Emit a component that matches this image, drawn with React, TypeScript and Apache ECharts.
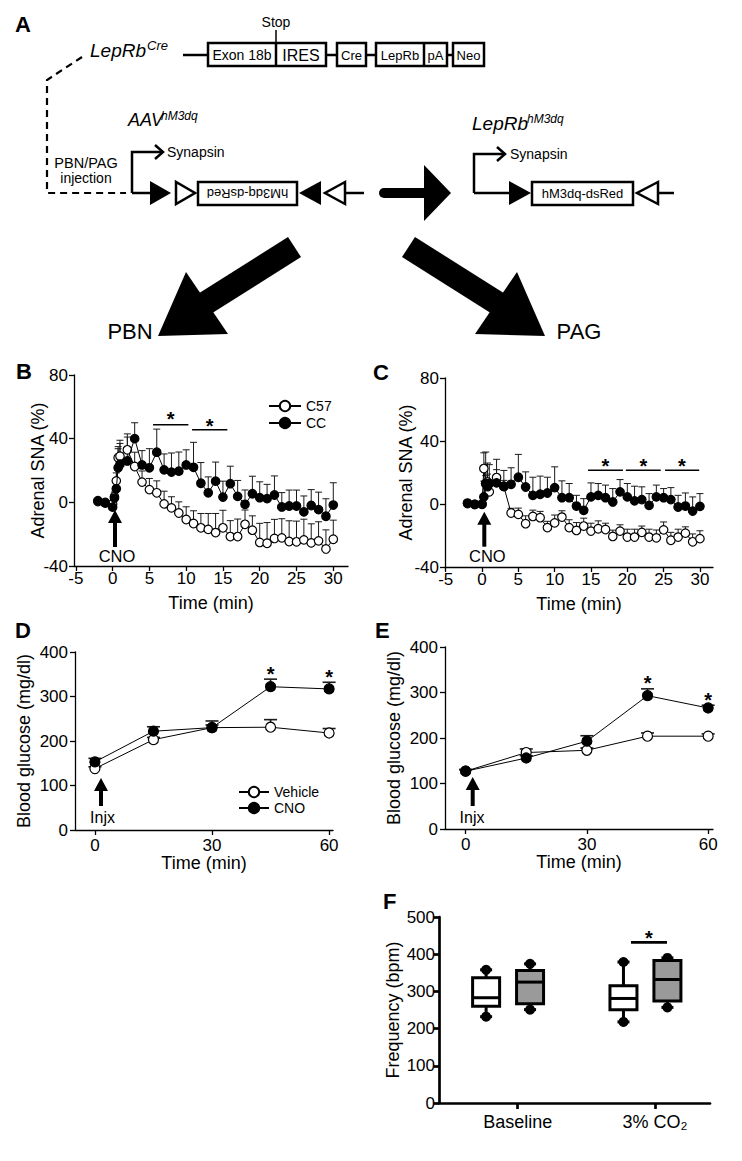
import React, { useEffect, useRef } from 'react';
import * as echarts from 'echarts';

const FONT = '"Liberation Sans", Arial, Helvetica, sans-serif';

// ---------- Panels B / C : adrenal SNA ----------
const snaTime = [-2, -1, 0, 0.25, 0.5, 0.75, 1, 2, 3, 4, 5, 6, 7, 8, 9, 10, 11, 12, 13, 14, 15, 16, 17, 18, 19, 20, 21, 22, 23, 24, 25, 26, 27, 28, 29, 30];
const snaXTicks = [-5, 0, 5, 10, 15, 20, 25, 30];

const bC57 = [0.5, 0, -1, 3.5, 13.5, 28, 29, 33, 22.5, 12.7, 8, 6, -1, -3.5, -6.7, -10.8, -13.3, -16, -17, -19, -16, -21.5, -21.5, -13.8, -17.5, -25.2, -25.7, -22.7, -22.3, -24.6, -24.8, -23.6, -25.5, -24.2, -29.3, -23.2];
const bC57Err = [0, 0, 0, 3, 5, 7, 8, 10, 9, 7, 7, 7.5, 8, 7, 7, 8, 8, 9, 10, 12, 11, 10, 11, 9, 9, 12, 13, 12, 12, 13, 13, 13, 12, 12, 12, 12];
const bCC = [1, -0.5, -3, 2.7, 8.5, 21.7, 24, 26, 40, 23.5, 21.7, 31.5, 20.4, 19, 19.6, 23.5, 22, 12, 6, 13.3, 3.3, 11.7, 3.75, -1.25, 5.4, 2.9, 2.3, 4.6, -2.9, -2.3, -2.3, -6, -2, -4.6, -8.75, -1.7];
const bCCErr = [0, 0, 0, 3, 6, 12, 15, 15, 10, 9, 12, 14.5, 10, 12, 12, 9.5, 15.7, 13, 10, 12, 10, 11, 10, 9, 11, 10, 9, 12, 9, 10, 10, 10, 10, 11, 11, 14];
const bSigBars = [[5.5, 10.3, 48.7], [10.8, 15.6, 45.6]];
const bStars = [[7.9, 55], [13.2, 51]];

const cC57 = [0.3, -0.3, 0, 22.5, 13, 14, 7.7, 16.8, 11, -5.7, -6.6, -12.5, -7.9, -8.7, -15, -12, -8.3, -15, -16.8, -14, -17.2, -15.7, -16.2, -20.6, -17.2, -21, -21, -18, -21, -21.5, -16.4, -23, -21, -18.5, -24, -22];
const cC57Err = [0, 0, 0, 10, 5, 5, 4, 5, 4, 3, 4, 5, 4, 4, 4, 5, 4, 5, 5, 5, 5, 5, 4, 4, 4, 5, 5, 4, 5, 5, 5, 5, 5, 4, 5, 5];
const cCC = [0.6, -0.2, -0.2, 4.5, 13, 11, 13, 13.4, 11.3, 12.5, 17, 10.8, 5.5, 6.2, 7, 10.4, 4, 4, -1.3, -4, 4.5, 5.5, 4, 1.3, 7.7, 4.5, 2, 2.8, -0.9, 4.5, 4, 2.8, -1.9, -1.3, -4.5, -1.5];
const cCCErr = [0, 0, 0, 10, 20, 15, 12, 15, 10, 10.5, 14.5, 9.6, 11.5, 11.5, 10, 13.2, 10.7, 9, 6.8, 7.4, 8.9, 7.5, 8, 8.5, 7.8, 8.5, 9.3, 8.1, 7.5, 7.5, 5.8, 7.6, 7.4, 8.3, 9, 8.1];
const cSigBars = [[14.6, 19.4, 21.4], [19.8, 24.6, 21.4], [25.2, 29.9, 21.4]];
const cStars = [[17, 27.3], [22.2, 27.3], [27.5, 27.3]];

// ---------- Panels D / E : blood glucose ----------
const glucoseTime = [0, 15, 30, 45, 60];
const glucoseXTicks = [0, 30, 60];
const dVehicle = [138, 203, 230, 231, 218];
const dVehicleErr = [4, 5, 6, 17, 10];
const dCNO = [153, 222, 230, 322, 317];
const dCNOErr = [8, 10, 15, 17, 15];
const dStars = [[45, 362], [60, 354]];
const eVehicle = [127, 168, 173, 204, 204];
const eVehicleErr = [3, 8, 5, 7, 5];
const eCNO = [127, 156, 193, 293, 266];
const eCNOErr = [4, 5, 12, 15, 6];
const eStars = [[45, 330], [60, 293]];

// ---------- Panel F : frequency box plots [min, Q1, median, Q3, max] ----------
const fCategories = ['Baseline', '3% CO₂'];
const fWhite = [[232, 260, 283, 337, 358], [218, 251, 281, 315, 379]];
const fGray = [[251, 267, 325, 356, 374], [257, 274, 332, 383, 390]];
const fSigBars = [[1.825, 2.087, 432]];
const fStars = [[1.956, 457]];

// ---------- helpers ----------
const pairs = (xs: number[], ys: number[]) => xs.map((x, i) => [x, ys[i]]);

const errRender = (capHalf: number, lw: number) => (params: any, api: any) => {
  const x = api.value(0), y = api.value(1), e = api.value(2);
  if (!e) return null;
  const p0 = api.coord([x, y]);
  const p1 = api.coord([x, y + e]);
  const st = { stroke: '#1a1a1a', lineWidth: lw };
  return {
    type: 'group',
    children: [
      { type: 'line', shape: { x1: p0[0], y1: p0[1], x2: p1[0], y2: p1[1] }, style: st },
      { type: 'line', shape: { x1: p1[0] - capHalf, y1: p1[1], x2: p1[0] + capHalf, y2: p1[1] }, style: st },
    ],
  };
};

const barRender = (lw: number) => (params: any, api: any) => {
  const a = api.coord([api.value(0), api.value(2)]);
  const b = api.coord([api.value(1), api.value(2)]);
  return { type: 'line', shape: { x1: a[0], y1: a[1], x2: b[0], y2: b[1] }, style: { stroke: '#000', lineWidth: lw } };
};

const starRender = (size: number) => (params: any, api: any) => {
  const p = api.coord([api.value(0), api.value(1)]);
  return {
    type: 'text',
    x: p[0],
    y: p[1] + size * 0.23,
    style: {
      text: '*', fontSize: size, fontWeight: 'bold', fontFamily: FONT, fill: '#000',
      align: 'center', verticalAlign: 'middle', textAlign: 'center', textVerticalAlign: 'middle',
    },
  };
};

const boxRender = (offset: number, fill: string) => (params: any, api: any) => {
  const cx = api.value(0) + offset;
  const mn = api.value(1), q1 = api.value(2), md = api.value(3), q3 = api.value(4), mx = api.value(5);
  const pMin = api.coord([cx, mn]);
  const pQ1 = api.coord([cx, q1]);
  const pMd = api.coord([cx, md]);
  const pQ3 = api.coord([cx, q3]);
  const pMax = api.coord([cx, mx]);
  const x = pMin[0];
  const hw = 13.5;
  const s = { stroke: '#000', lineWidth: 3 };
  return {
    type: 'group',
    children: [
      { type: 'line', shape: { x1: x, y1: pMax[1], x2: x, y2: pQ3[1] }, style: s },
      { type: 'line', shape: { x1: x, y1: pQ1[1], x2: x, y2: pMin[1] }, style: s },
      { type: 'line', shape: { x1: x - 6, y1: pMax[1], x2: x + 6, y2: pMax[1] }, style: s },
      { type: 'line', shape: { x1: x - 6, y1: pMin[1], x2: x + 6, y2: pMin[1] }, style: s },
      { type: 'circle', shape: { cx: x, cy: pMax[1], r: 5 }, style: { fill: '#000' } },
      { type: 'circle', shape: { cx: x, cy: pMin[1], r: 5 }, style: { fill: '#000' } },
      { type: 'rect', shape: { x: x - hw, y: pQ3[1], width: 2 * hw, height: pQ1[1] - pQ3[1] }, style: { fill, stroke: '#000', lineWidth: 3 } },
      { type: 'line', shape: { x1: x - hw, y1: pMd[1], x2: x + hw, y2: pMd[1] }, style: s },
    ],
  };
};

const lineSeries = (name: string, ai: number, xs: number[], ys: number[], filled: boolean, size: number, z: number) => ({
  type: 'line', name, xAxisIndex: ai, yAxisIndex: ai, data: pairs(xs, ys),
  symbol: 'circle', symbolSize: size, showSymbol: true, silent: true, z,
  lineStyle: { color: '#000', width: 1 },
  itemStyle: { color: filled ? '#000' : '#fff', borderColor: '#000', borderWidth: 1.2 },
  emphasis: { disabled: true },
});

const errSeries = (name: string, ai: number, xs: number[], ys: number[], es: number[], capHalf: number, lw: number) => ({
  type: 'custom', name, xAxisIndex: ai, yAxisIndex: ai, silent: true, z: 2,
  data: xs.map((x, i) => [x, ys[i], es[i]]),
  encode: { x: 0, y: 1 },
  renderItem: errRender(capHalf, lw),
});

const sigSeries = (name: string, ai: number, bars: number[][], lw: number) => ({
  type: 'custom', name, xAxisIndex: ai, yAxisIndex: ai, silent: true, z: 5,
  data: bars, encode: { x: [0, 1], y: 2 }, renderItem: barRender(lw),
});

const starSeries = (name: string, ai: number, stars: number[][], size: number) => ({
  type: 'custom', name, xAxisIndex: ai, yAxisIndex: ai, silent: true, z: 5,
  data: stars, encode: { x: 0, y: 1 }, renderItem: starRender(size),
});

const nameStyle = { color: '#000', fontSize: 18, fontFamily: FONT, fontWeight: 'normal' };

const xAxisCfg = (gi: number, min: number, max: number, ticks: number[], nameGap: number, labelMargin: number, lw: number, extra: any = {}) => ({
  type: 'value', gridIndex: gi, min, max,
  name: 'Time (min)', nameLocation: 'middle', nameGap, nameMoveOverlap: false,
  nameTextStyle: nameStyle,
  axisLine: { show: true, onZero: false, lineStyle: { color: '#000', width: lw } },
  axisTick: { show: true, length: 5, customValues: ticks, lineStyle: { color: '#000', width: lw } },
  axisLabel: { show: true, customValues: ticks, color: '#000', fontSize: 17, fontWeight: 'normal', fontFamily: FONT, margin: labelMargin },
  splitLine: { show: false },
  ...extra,
});

const yAxisCfg = (gi: number, min: number, max: number, interval: number, name: string, nameGap: number, labelMargin: number, lw: number) => ({
  type: 'value', gridIndex: gi, min, max, interval,
  name, nameLocation: 'middle', nameGap, nameMoveOverlap: false,
  nameTextStyle: nameStyle,
  axisLine: { show: true, onZero: false, lineStyle: { color: '#000', width: lw } },
  axisTick: { show: true, length: 5, lineStyle: { color: '#000', width: lw } },
  axisLabel: { show: true, color: '#000', fontSize: 17, fontWeight: 'normal', fontFamily: FONT, margin: labelMargin },
  splitLine: { show: false },
});

// ---------- graphic helpers (diagram & annotations) ----------
const T = (text: string, x: number, y: number, size: number, o: any = {}) => ({
  type: 'text', x, y, rotation: o.rot || 0, silent: true, z: 10,
  style: {
    text, fontSize: size, fontFamily: FONT, fill: '#000',
    fontStyle: o.italic ? 'italic' : 'normal', fontWeight: o.bold ? 'bold' : 'normal',
    align: o.align || 'center', verticalAlign: 'middle',
    textAlign: o.align || 'center', textVerticalAlign: 'middle',
  },
});
const L = (x1: number, y1: number, x2: number, y2: number, w = 2.5, o: any = {}) => ({
  type: 'line', silent: true, z: 10, shape: { x1, y1, x2, y2 },
  style: { stroke: '#000', lineWidth: w, lineCap: o.cap || 'butt', lineDash: o.dash },
});
const R = (x: number, y: number, w: number, h: number, fill = '#fff', lw = 2.5) => ({
  type: 'rect', silent: true, z: 10, shape: { x, y, width: w, height: h },
  style: { fill, stroke: '#000', lineWidth: lw },
});
const PG = (points: number[][], fill = '#000', stroke?: string, lw?: number) => ({
  type: 'polygon', silent: true, z: 10, shape: { points },
  style: stroke ? { fill, stroke, lineWidth: lw, lineJoin: 'miter' } : { fill },
});
const PL = (points: number[][], w = 2.5, dash?: number[]) => ({
  type: 'polyline', silent: true, z: 10, shape: { points },
  style: { stroke: '#000', lineWidth: w, fill: 'none', lineDash: dash, lineJoin: 'miter' },
});
const upArrow = (x: number, tip: number, bottom: number) => [
  PG([[x - 7, tip + 13], [x, tip], [x + 7, tip + 13]]),
  { type: 'rect', silent: true, z: 10, shape: { x: x - 2, y: tip + 12, width: 4, height: bottom - tip - 12 }, style: { fill: '#000' } },
];

const graphicElements: any[] = [
  // panel letters
  T('A', 15, 24, 22, { align: 'left', bold: true }),
  T('B', 16, 371, 22, { align: 'left', bold: true }),
  T('C', 373, 372, 22, { align: 'left', bold: true }),
  T('D', 15, 630, 22, { align: 'left', bold: true }),
  T('E', 375, 630, 22, { align: 'left', bold: true }),
  T('F', 383, 901, 22, { align: 'left', bold: true }),

  // LepRb^Cre allele
  T('LepRb', 90, 50, 19, { align: 'left', italic: true }),
  T('Cre', 147, 45, 13, { align: 'left', italic: true }),
  L(183, 55, 208, 55),
  R(208, 43, 118, 23),
  L(276, 43, 276, 66),
  L(276, 30, 276, 43, 1.5),
  T('Stop', 276, 22, 14),
  T('Exon 18b', 242, 55, 14),
  T('IRES', 301, 55, 16),
  L(326, 55, 337, 55),
  R(337, 43, 29, 23),
  T('Cre', 351.5, 55, 13),
  L(366, 55, 376, 55),
  R(376, 43, 71, 23),
  L(424, 43, 424, 66),
  T('LepRb', 400, 55, 13),
  T('pA', 435.5, 55, 13),
  L(447, 55, 453, 55),
  R(453, 43, 31, 23),
  T('Neo', 468.5, 55, 13),

  // dashed injection path
  PL([[82, 57], [47, 80], [47, 193], [126, 193]], 2.2, [7, 5]),
  T('PBN/PAG', 86, 163, 14.5),
  T('injection', 86, 177.5, 14),

  // AAV construct
  T('AAV', 128, 120, 18, { align: 'left', italic: true }),
  T('hM3dq', 161, 116, 12, { align: 'left', italic: true }),
  PL([[132, 193], [132, 152], [163, 152]]),
  PL([[155, 145], [163, 152], [155, 159]]),
  T('Synapsin', 167, 152, 14, { align: 'left' }),
  L(132, 193, 150, 193),
  PG([[150, 181], [150, 205], [171, 193]]),
  PG([[176, 182], [176, 204], [195, 193]], '#fff', '#000', 2.5),
  R(198, 182, 99, 23),
  T('hM3dq-dsRed', 247.5, 193.5, 13, { rot: Math.PI }),
  PG([[321, 181], [321, 205], [299, 193]]),
  PG([[345, 182], [345, 204], [325, 193]], '#fff', '#000', 2.5),
  L(345, 193, 364, 193),

  // big horizontal arrow
  L(384, 193, 428, 193, 10, { cap: 'round' }),
  PG([[424, 165], [451, 193], [424, 221]]),

  // LepRb^hM3dq construct
  T('LepRb', 472, 123, 19, { align: 'left', italic: true }),
  T('hM3dq', 527, 119, 12, { align: 'left', italic: true }),
  PL([[474, 193], [474, 154], [504, 154]]),
  PL([[497, 147], [505, 154], [497, 161]]),
  T('Synapsin', 510, 154, 14, { align: 'left' }),
  L(474, 193, 509, 193),
  PG([[509, 181], [509, 205], [531, 193]]),
  R(532, 182, 101, 23),
  T('hM3dq-dsRed', 582.5, 193.5, 13),
  PG([[658, 182], [658, 204], [637, 193]], '#fff', '#000', 2.5),
  L(658, 193, 674, 193),

  // big diagonal arrows
  PG([[288, 237], [301, 257], [206, 317], [193, 297]]),
  PG([[186, 272], [158, 336], [228, 334]]),
  PG([[415, 237], [402, 257], [497, 317], [510, 297]]),
  PG([[517, 272], [545, 336], [475, 334]]),
  T('PBN', 130, 331, 22),
  T('PAG', 579, 331, 22),

  // injection arrows
  ...upArrow(115, 510, 547),
  T('CNO', 117, 556, 16.5),
  ...upArrow(484.3, 511.7, 546.7),
  T('CNO', 487.3, 556, 16.5),
  ...upArrow(101, 778, 806),
  T('Injx', 102.5, 817, 16),
  ...upArrow(472.7, 777, 806),
  T('Injx', 472, 817, 16),
];

const fAxisLabel = (v: number) => fCategories[Math.round(v) - 1] || '';

const option: any = {
  animation: false,
  backgroundColor: '#fff',
  textStyle: { fontFamily: FONT, color: '#000', fontWeight: 'normal' },
  grid: [
    { left: 74, top: 375, width: 274, height: 191, containLabel: false, outerBoundsMode: 'none' },
    { left: 445, top: 378, width: 268, height: 189, containLabel: false, outerBoundsMode: 'none' },
    { left: 75, top: 652, width: 258, height: 178, containLabel: false, outerBoundsMode: 'none' },
    { left: 445, top: 647, width: 268, height: 182, containLabel: false, outerBoundsMode: 'none' },
    { left: 439, top: 917, width: 271, height: 186, containLabel: false, outerBoundsMode: 'none' },
  ],
  xAxis: [
    xAxisCfg(0, -5.25, 32, snaXTicks, 28, 4, 1.3),
    xAxisCfg(1, -5.1, 31.8, snaXTicks, 28, 4, 1.3),
    xAxisCfg(2, -5.1, 61, glucoseXTicks, 24, 7, 1.3),
    xAxisCfg(3, -5.1, 61.2, glucoseXTicks, 24, 7, 1.3),
    xAxisCfg(4, 0.427, 2.4, [1, 2], 30, 10, 2.7, {
      name: '',
      axisTick: { show: true, length: 6, customValues: [1, 2], lineStyle: { color: '#000', width: 2.7 } },
      axisLabel: { show: true, customValues: [1, 2], formatter: fAxisLabel, color: '#000', fontSize: 18, fontWeight: 'normal', fontFamily: FONT, margin: 10 },
    }),
  ],
  yAxis: [
    yAxisCfg(0, -40, 80, 40, 'Adrenal SNA (%)', 27, 6, 1.3),
    yAxisCfg(1, -40, 80, 40, 'Adrenal SNA (%)', 30, 6, 1.3),
    yAxisCfg(2, 0, 400, 100, 'Blood glucose (mg/dl)', 42, 7, 1.3),
    yAxisCfg(3, 0, 400, 100, 'Blood glucose (mg/dl)', 42, 7, 1.3),
    yAxisCfg(4, 0, 500, 100, 'Frequency (bpm)', 37, 4, 2.7),
  ],
  legend: [
    {
      data: ['C57', 'CC'], left: 268, top: 399, orient: 'vertical', padding: 0,
      itemWidth: 32, itemHeight: 13, itemGap: 3, selectedMode: false,
      textStyle: { fontSize: 14, fontFamily: FONT, color: '#000', fontWeight: 'normal' },
    },
    {
      data: ['Vehicle', 'CNO'], left: 238, top: 785, orient: 'vertical', padding: 0,
      itemWidth: 30, itemHeight: 13, itemGap: 2, selectedMode: false,
      textStyle: { fontSize: 14, fontFamily: FONT, color: '#000', fontWeight: 'normal' },
    },
  ],
  series: [
    // B
    errSeries('B C57 SEM', 0, snaTime, bC57, bC57Err, 3.5, 1),
    errSeries('B CC SEM', 0, snaTime, bCC, bCCErr, 3.5, 1),
    lineSeries('C57', 0, snaTime, bC57, false, 8.5, 3),
    lineSeries('CC', 0, snaTime, bCC, true, 8.5, 4),
    sigSeries('B sig', 0, bSigBars, 1.6),
    starSeries('B stars', 0, bStars, 20),
    // C
    errSeries('C C57 SEM', 1, snaTime, cC57, cC57Err, 3.5, 1),
    errSeries('C CC SEM', 1, snaTime, cCC, cCCErr, 3.5, 1),
    lineSeries('C57', 1, snaTime, cC57, false, 8.5, 3),
    lineSeries('CC', 1, snaTime, cCC, true, 8.5, 4),
    sigSeries('C sig', 1, cSigBars, 1.6),
    starSeries('C stars', 1, cStars, 20),
    // D
    errSeries('D Vehicle SEM', 2, glucoseTime, dVehicle, dVehicleErr, 6.5, 1.6),
    errSeries('D CNO SEM', 2, glucoseTime, dCNO, dCNOErr, 6.5, 1.6),
    lineSeries('Vehicle', 2, glucoseTime, dVehicle, false, 10, 3),
    lineSeries('CNO', 2, glucoseTime, dCNO, true, 10, 4),
    starSeries('D stars', 2, dStars, 20),
    // E
    errSeries('E Vehicle SEM', 3, glucoseTime, eVehicle, eVehicleErr, 6.5, 1.6),
    errSeries('E CNO SEM', 3, glucoseTime, eCNO, eCNOErr, 6.5, 1.6),
    lineSeries('Vehicle', 3, glucoseTime, eVehicle, false, 10, 3),
    lineSeries('CNO', 3, glucoseTime, eCNO, true, 10, 4),
    starSeries('E stars', 3, eStars, 20),
    // F
    {
      type: 'custom', name: 'F white', xAxisIndex: 4, yAxisIndex: 4, silent: true, z: 3,
      data: fWhite.map((v, i) => [i + 1, ...v]), encode: { x: 0, y: [1, 2, 3, 4, 5] },
      renderItem: boxRender(-0.23, '#fff'),
    },
    {
      type: 'custom', name: 'F gray', xAxisIndex: 4, yAxisIndex: 4, silent: true, z: 3,
      data: fGray.map((v, i) => [i + 1, ...v]), encode: { x: 0, y: [1, 2, 3, 4, 5] },
      renderItem: boxRender(0.09, '#9a9a9a'),
    },
    sigSeries('F sig', 4, fSigBars, 2.8),
    starSeries('F stars', 4, fStars, 20),
  ],
  graphic: { elements: graphicElements },
};

export default function App() {
  const ref = useRef<HTMLDivElement>(null);
  useEffect(() => {
    const chart = echarts.init(ref.current as HTMLDivElement, null, { renderer: 'svg' });
    chart.setOption(option);
    return () => chart.dispose();
  }, []);
  return (
    <div
      ref={ref}
      style={{ position: 'absolute', left: 0, top: 0, width: 742, height: 1161, background: '#fff' }}
    />
  );
}
